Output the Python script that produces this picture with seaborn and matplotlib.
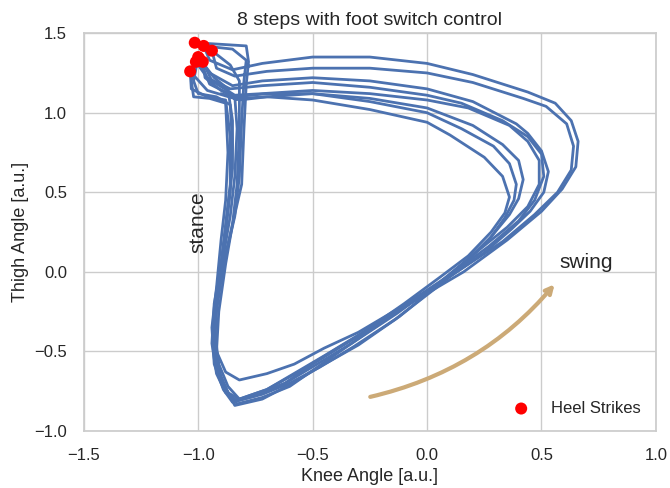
import matplotlib
matplotlib.use("Agg")
import matplotlib.pyplot as plt
import seaborn as sns
import pandas as pd

# ---------------- data ----------------
step_knee = [
    [-1.015, -0.90, -0.79, -0.78, -0.79, -0.80, -0.81, -0.85, -0.88, -0.91, -0.92, -0.90, -0.86, -0.83, -0.72, -0.60, -0.48, -0.30, -0.10, 0.16, 0.35, 0.50, 0.59, 0.65, 0.66, 0.63, 0.56, 0.44, 0.20, 0.00, -0.25, -0.50, -0.72, -0.85, -0.95, -0.976],
    [-0.976, -0.85, -0.79, -0.80, -0.81, -0.82, -0.84, -0.88, -0.92, -0.93, -0.91, -0.87, -0.84, -0.74, -0.62, -0.50, -0.32, -0.12, 0.13, 0.33, 0.47, 0.57, 0.63, 0.64, 0.61, 0.52, 0.42, 0.20, 0.00, -0.25, -0.50, -0.70, -0.84, -0.92, -0.94],
    [-0.94, -0.86, -0.82, -0.82, -0.83, -0.85, -0.89, -0.92, -0.93, -0.90, -0.87, -0.82, -0.70, -0.55, -0.38, -0.18, 0.08, 0.25, 0.37, 0.45, 0.51, 0.53, 0.50, 0.44, 0.39, 0.20, 0.00, -0.25, -0.50, -0.72, -0.85, -0.95, -1.00],
    [-1.00, -1.02, -1.00, -0.92, -0.86, -0.85, -0.86, -0.88, -0.91, -0.93, -0.92, -0.88, -0.82, -0.70, -0.58, -0.45, -0.30, -0.10, 0.10, 0.27, 0.40, 0.47, 0.51, 0.50, 0.44, 0.33, 0.15, 0.00, -0.25, -0.50, -0.72, -0.86, -0.96, -1.01],
    [-1.01, -1.03, -1.02, -0.95, -0.88, -0.87, -0.88, -0.90, -0.92, -0.94, -0.93, -0.89, -0.85, -0.75, -0.62, -0.48, -0.33, -0.13, 0.06, 0.22, 0.35, 0.44, 0.49, 0.49, 0.44, 0.36, 0.18, 0.00, -0.25, -0.50, -0.72, -0.84, -0.94, -0.98],
    [-0.98, -0.97, -0.90, -0.84, -0.83, -0.84, -0.86, -0.89, -0.92, -0.93, -0.91, -0.87, -0.84, -0.72, -0.60, -0.46, -0.30, -0.12, 0.05, 0.18, 0.28, 0.36, 0.40, 0.42, 0.40, 0.33, 0.20, 0.00, -0.25, -0.50, -0.70, -0.82, -0.96, -1.035],
    [-1.035, -1.03, -0.96, -0.88, -0.86, -0.86, -0.88, -0.90, -0.93, -0.94, -0.92, -0.88, -0.83, -0.72, -0.60, -0.47, -0.32, -0.14, 0.04, 0.17, 0.27, 0.34, 0.38, 0.39, 0.36, 0.29, 0.15, 0.00, -0.25, -0.50, -0.70, -0.84, -0.95, -0.995],
    [-0.995, -0.93, -0.87, -0.85, -0.85, -0.87, -0.89, -0.91, -0.93, -0.91, -0.87, -0.82, -0.70, -0.57, -0.44, -0.28, -0.10, 0.06, 0.18, 0.28, 0.34, 0.36, 0.33, 0.25, 0.10, 0.00, -0.25, -0.50, -0.70, -0.82, -0.90],
]
step_thigh = [
    [1.44, 1.43, 1.42, 1.32, 1.18, 0.90, 0.55, 0.30, 0.05, -0.25, -0.50, -0.68, -0.78, -0.83, -0.79, -0.72, -0.60, -0.42, -0.22, 0.00, 0.20, 0.38, 0.52, 0.66, 0.82, 0.95, 1.06, 1.13, 1.24, 1.31, 1.35, 1.35, 1.31, 1.27, 1.33, 1.42],
    [1.42, 1.40, 1.33, 1.20, 0.95, 0.60, 0.35, 0.10, -0.20, -0.45, -0.65, -0.77, -0.81, -0.77, -0.70, -0.58, -0.42, -0.24, 0.00, 0.19, 0.36, 0.50, 0.64, 0.79, 0.93, 1.04, 1.09, 1.19, 1.25, 1.28, 1.28, 1.26, 1.23, 1.28, 1.39],
    [1.39, 1.30, 1.20, 0.90, 0.55, 0.30, 0.05, -0.25, -0.50, -0.68, -0.76, -0.80, -0.74, -0.62, -0.47, -0.30, -0.05, 0.12, 0.27, 0.38, 0.50, 0.63, 0.76, 0.87, 0.93, 1.07, 1.15, 1.20, 1.22, 1.20, 1.17, 1.25, 1.35],
    [1.35, 1.20, 1.12, 1.10, 1.05, 0.80, 0.50, 0.25, -0.05, -0.30, -0.50, -0.63, -0.68, -0.64, -0.58, -0.48, -0.38, -0.21, -0.02, 0.16, 0.32, 0.45, 0.60, 0.74, 0.85, 0.95, 1.06, 1.11, 1.16, 1.19, 1.17, 1.15, 1.22, 1.32],
    [1.32, 1.20, 1.10, 1.09, 1.06, 0.75, 0.45, 0.20, -0.10, -0.35, -0.58, -0.74, -0.82, -0.78, -0.70, -0.58, -0.45, -0.26, -0.06, 0.13, 0.28, 0.41, 0.55, 0.70, 0.82, 0.92, 1.03, 1.08, 1.12, 1.14, 1.12, 1.11, 1.20, 1.32],
    [1.32, 1.22, 1.14, 1.10, 0.90, 0.60, 0.35, 0.10, -0.15, -0.40, -0.62, -0.76, -0.84, -0.80, -0.71, -0.59, -0.46, -0.28, -0.08, 0.08, 0.22, 0.36, 0.46, 0.58, 0.70, 0.80, 0.92, 1.03, 1.09, 1.12, 1.10, 1.08, 1.14, 1.26],
    [1.26, 1.15, 1.10, 1.08, 0.85, 0.55, 0.30, 0.05, -0.20, -0.45, -0.64, -0.76, -0.81, -0.77, -0.70, -0.60, -0.47, -0.30, -0.10, 0.06, 0.20, 0.34, 0.45, 0.55, 0.68, 0.79, 0.90, 1.00, 1.07, 1.12, 1.12, 1.10, 1.18, 1.34],
    [1.34, 1.22, 1.15, 0.95, 0.65, 0.40, 0.15, -0.10, -0.35, -0.58, -0.72, -0.80, -0.74, -0.63, -0.52, -0.38, -0.20, -0.03, 0.10, 0.25, 0.37, 0.47, 0.60, 0.72, 0.86, 0.94, 1.02, 1.08, 1.10, 1.09, 1.12],
]
heel_knee = [-1.015, -0.976, -0.94, -1.00, -1.01, -0.98, -1.035, -0.995]
heel_thigh = [1.44, 1.42, 1.39, 1.35, 1.32, 1.32, 1.26, 1.34]

x_ticks = [-1.5, -1.0, -0.5, 0.0, 0.5, 1.0]
y_ticks = [-1.0, -0.5, 0.0, 0.5, 1.0, 1.5]

# ---------------- build table ----------------
rows = []
for i, (kx, ty) in enumerate(zip(step_knee, step_thigh)):
    for j, (a, b) in enumerate(zip(kx, ty)):
        rows.append({"step": i, "order": j, "knee": a, "thigh": b})
df = pd.DataFrame(rows)
hs = pd.DataFrame({"knee": heel_knee, "thigh": heel_thigh})

sns.set_theme(style="whitegrid")
plt.rcParams["font.family"] = ["Liberation Sans", "DejaVu Sans"]
plt.rcParams["axes.edgecolor"] = "0.8"

fig = plt.figure(figsize=(6.7, 4.88), dpi=100)
ax = fig.add_axes([0.125, 0.117, 0.854, 0.815])

sns.lineplot(data=df, x="knee", y="thigh", units="step", estimator=None,
             sort=False, color="#4C72B0", lw=2.0, ax=ax)
sns.scatterplot(data=hs, x="knee", y="thigh", color="red", s=75,
                edgecolor="none", label="Heel Strikes", ax=ax, zorder=3)

ax.set_xlim(-1.5, 1.0)
ax.set_ylim(-1.0, 1.5)
ax.set_xticks(x_ticks)
ax.set_yticks(y_ticks)
ax.tick_params(labelsize=12, pad=6)
ax.set_xlabel("Knee Angle [a.u.]", fontsize=13)
ax.set_ylabel("Thigh Angle [a.u.]", fontsize=13)
ax.set_title("8 steps with foot switch control", fontsize=14)

ax.text(-1.0, 0.31, "stance", rotation=90, fontsize=15, ha="center", va="center")
ax.text(0.58, 0.06, "swing", fontsize=15, ha="left", va="center")
ax.annotate("", xy=(0.565, -0.065), xytext=(-0.26, -0.79),
            arrowprops=dict(arrowstyle="->", color="#CCAA77", lw=3,
                            connectionstyle="arc3,rad=0.17"))

leg = ax.legend(loc="lower right", frameon=False, fontsize=12)

fig.savefig("out.png", dpi=100)
